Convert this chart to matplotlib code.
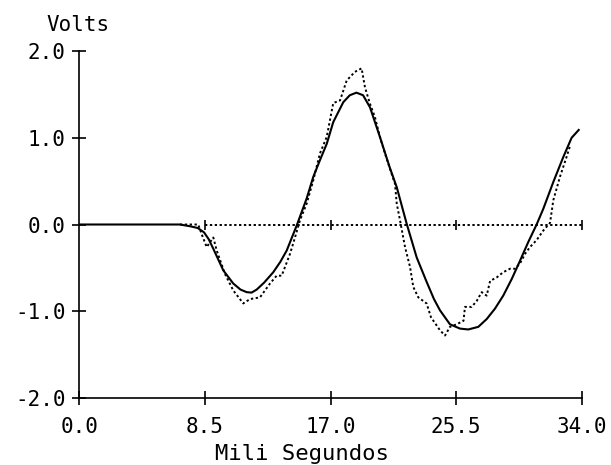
import matplotlib
matplotlib.use("Agg")
import matplotlib.pyplot as plt

# smooth (solid) waveform, ms / volts
t_fit = [0, 6.8, 7.48, 8.0, 8.43, 8.75, 9.06, 9.74, 10.41, 10.9, 11.32, 11.65,
         12.0, 12.5, 13.12, 13.6, 14.03, 14.71, 15.38, 15.83, 16.3, 16.74,
         17.18, 17.86, 18.3, 18.75, 19.2, 19.67, 20.34, 21.0, 21.48, 22.15,
         22.83, 23.5, 24.0, 24.41, 25.08, 25.76, 26.32, 27.0, 27.57, 28.13,
         28.69, 29.26, 29.82, 30.39, 30.95, 31.4, 32.08, 32.76, 33.32, 33.8]
v_fit = [0, 0, -0.02, -0.04, -0.09, -0.17, -0.28, -0.53, -0.68, -0.75, -0.78,
         -0.785, -0.75, -0.67, -0.55, -0.43, -0.30, -0.01, 0.30, 0.55, 0.75,
         0.93, 1.18, 1.41, 1.49, 1.52, 1.49, 1.35, 1.01, 0.66, 0.43, 0.01,
         -0.38, -0.66, -0.86, -0.99, -1.15, -1.20, -1.21, -1.18, -1.09, -0.97,
         -0.82, -0.63, -0.42, -0.20, 0.0, 0.18, 0.49, 0.78, 1.0, 1.09]

# measured (dotted) waveform
t_meas = [6.8, 8.04, 8.27, 8.61, 9.06, 9.29, 9.85, 10.41, 11.09, 11.54, 12.22,
          12.9, 13.35, 13.69, 14.25, 14.59, 14.93, 15.38, 15.83, 16.28, 16.74,
          17.18, 17.64, 18.09, 18.65, 19.1, 19.33, 19.67, 20.0, 20.34, 20.68,
          21.14, 21.36, 21.48, 21.7, 22.04, 22.38, 22.6, 22.94, 23.5, 23.8,
          24.41, 24.75, 25.08, 25.54, 26.0, 26.1, 26.55, 26.9, 27.23, 27.57,
          27.8, 28.25, 28.69, 29.15, 29.49, 29.82, 30.16, 30.5, 30.95, 31.4,
          31.86, 32.08, 32.53, 32.98, 33.2]
v_meas = [0, 0, -0.11, -0.26, -0.15, -0.30, -0.57, -0.76, -0.91, -0.86, -0.84,
          -0.68, -0.59, -0.59, -0.34, -0.15, 0.05, 0.24, 0.51, 0.82, 1.01,
          1.40, 1.43, 1.66, 1.76, 1.80, 1.58, 1.39, 1.24, 1.01, 0.82,
          0.58, 0.47, 0.24, 0.05, -0.26, -0.49, -0.72, -0.84, -0.91, -1.07,
          -1.22, -1.28, -1.18, -1.15, -1.11, -0.95, -0.95, -0.88, -0.78, -0.82,
          -0.65, -0.61, -0.55, -0.51, -0.51, -0.45, -0.34, -0.26, -0.18, -0.07,
          0.02, 0.28, 0.55, 0.78, 0.90]

x_ticks = [0, 8.5, 17, 25.5, 34]
x_labels = ["0.0", "8.5", "17.0", "25.5", "34.0"]
y_ticks = [-2, -1, 0, 1, 2]
y_labels = ["-2.0", "-1.0", "0.0", "1.0", "2.0"]
baseline_t = [8.5, 34]
baseline_v = [0, 0]

plt.rcParams['font.family'] = ['DejaVu Sans Mono']

fig = plt.figure(figsize=(6.11, 4.65), dpi=100)
ax = fig.add_axes([0.1301, 0.1441, 0.8219, 0.7462])

dots = (0, (1.2, 1.3))
ax.plot(baseline_t, baseline_v, color='black', lw=1.4, ls=dots)
ax.plot(x_ticks[1:], [0] * 4, ls='none', marker='|', ms=7, mew=1.2,
        color='black')
ax.plot(t_meas, v_meas, color='black', lw=1.4, ls=dots)
ax.plot(t_fit, v_fit, color='black', lw=1.5)

ax.set_xlim(0, 34)
ax.set_ylim(-2, 2)
ax.set_xticks(x_ticks)
ax.set_xticklabels(x_labels)
ax.set_yticks(y_ticks)
ax.set_yticklabels(y_labels)
ax.tick_params(direction='inout', length=10, width=1.2, labelsize=15)
ax.tick_params(axis='x', pad=9)
ax.tick_params(axis='y', pad=5)

for side in ['top', 'right']:
    ax.spines[side].set_visible(False)
for side in ['left', 'bottom']:
    ax.spines[side].set_linewidth(1.2)

ax.set_xlabel("Mili Segundos", fontsize=16, va='center')
ax.xaxis.set_label_coords(0.443, -0.16)
fig.text(78 / 611, 1 - 25 / 465, "Volts", fontsize=15, ha='center',
         va='center')

fig.savefig("out.png", dpi=100)
